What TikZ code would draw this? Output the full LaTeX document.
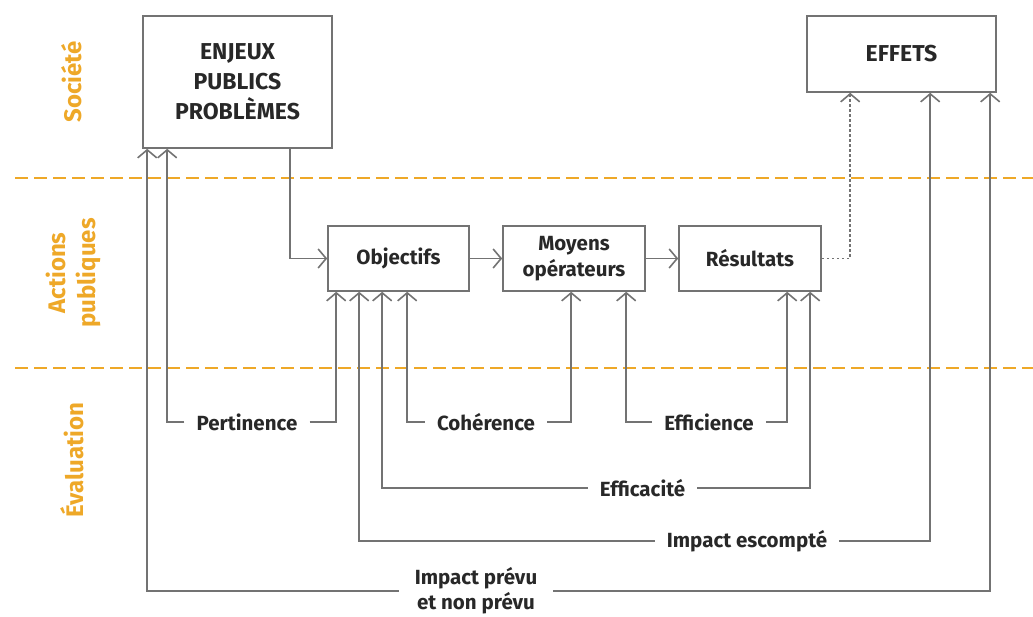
\documentclass[tikz,border=0pt]{standalone}
\usepackage{fontspec}
\setmainfont{Fira Sans}
\usetikzlibrary{arrows.meta,calc}
\definecolor{lgray}{RGB}{115,115,115}
\definecolor{txt}{RGB}{40,40,40}
\definecolor{org}{RGB}{238,168,40}
\tikzset{
  box/.style={draw=lgray, line width=1.6pt, text=txt, font=\fontsize{20.5}{26}\selectfont\bfseries, align=center, inner sep=0pt},
  caps/.style={font=\fontsize{23}{30}\selectfont\bfseries},
  lab/.style={text=txt, font=\fontsize{20.5}{27}\selectfont\bfseries, align=center, inner xsep=12pt, inner ysep=0pt},
  side/.style={text=org, font=\fontsize{24}{30}\selectfont\bfseries, align=center, rotate=90},
  conn/.style={draw=lgray, line width=1.6pt},
  arr/.style={conn, -{Straight Barb[length=8pt,width=19pt,line width=1.6pt]}},
  darr/.style={arr, dash pattern=on 2.5pt off 2.5pt},
  sep/.style={draw=org, line width=2.6pt, dash pattern=on 13pt off 6pt}
}
\begin{document}
\begin{tikzpicture}[x=1pt,y=-1pt]
\useasboundingbox (0,0) rectangle (1033,617);
% separators
\draw[sep] (15,178) -- (1033,178);
\draw[sep] (15,368) -- (1033,368);
% side labels
\node[side] (soc) at (72,82) {Société};
\node[side] (act) at (73,273) {Actions\\publiques};
\node[side] (eva) at (72,460) {Évaluation};
% boxes
\node[box, caps, minimum width=189pt, minimum height=132pt] (enj) at (237.5,82) {ENJEUX\\PUBLICS\\PROBLÈMES};
\node[box, caps, minimum width=189pt, minimum height=76pt] (eff) at (901.5,54) {EFFETS};
\node[box, minimum width=141pt, minimum height=65pt] (obj) at (398.5,258.5) {Objectifs};
\node[box, minimum width=142pt, minimum height=65pt] (moy) at (574,258.5) {Moyens\\opérateurs};
\node[box, minimum width=142pt, minimum height=65pt] (res) at (750,258.5) {Résultats};
% anchor points
\coordinate (e1) at ([xshift=5pt]enj.south west);
\coordinate (e2) at ([xshift=25pt]enj.south west);
\coordinate (e3) at ([xshift=-43pt]enj.south east);
\coordinate (o1) at ([xshift=9pt]obj.south west);
\coordinate (o2) at ([xshift=32pt]obj.south west);
\coordinate (o3) at ([xshift=55pt]obj.south west);
\coordinate (o4) at ([xshift=80pt]obj.south west);
\coordinate (m1) at ([xshift=69pt]moy.south west);
\coordinate (m2) at ([xshift=124pt]moy.south west);
\coordinate (r1) at ([xshift=109pt]res.south west);
\coordinate (r2) at ([xshift=132pt]res.south west);
\coordinate (f1) at ([xshift=44pt]eff.south west);
\coordinate (f2) at ([xshift=124pt]eff.south west);
\coordinate (f3) at ([xshift=184pt]eff.south west);
% flow
\draw[arr] (e3) |- (obj.west);
\draw[arr] (obj) -- (moy);
\draw[arr] (moy) -- (res);
\draw[darr] (res.east) -| (f1);
% evaluation labels
\node[lab] (pert) at (247,422) {Pertinence};
\node[lab] (coh) at (486,422) {Cohérence};
\node[lab] (effi) at (709,422) {Efficience};
\node[lab] (effc) at (642.5,488) {Efficacité};
\node[lab] (imp) at (747,541) {Impact escompté};
\node[lab, inner xsep=16pt, font=\fontsize{20.5}{25}\selectfont\bfseries] (impt) at (476,591) {Impact prévu\\et non prévu};
% evaluation connectors
\draw[arr] (pert.west) -| (e2);
\draw[arr] (pert.east) -| (o1);
\draw[arr] (coh.west) -| (o4);
\draw[arr] (coh.east) -| (m1);
\draw[arr] (effi.west) -| (m2);
\draw[arr] (effi.east) -| (r1);
\draw[arr] (effc.west) -| (o3);
\draw[arr] (effc.east) -| (r2);
\draw[arr] (imp.west) -| (o2);
\draw[arr] (imp.east) -| (f2);
\draw[arr] (impt.west) -| (e1);
\draw[arr] (impt.east) -| (f3);
\end{tikzpicture}
\end{document}
